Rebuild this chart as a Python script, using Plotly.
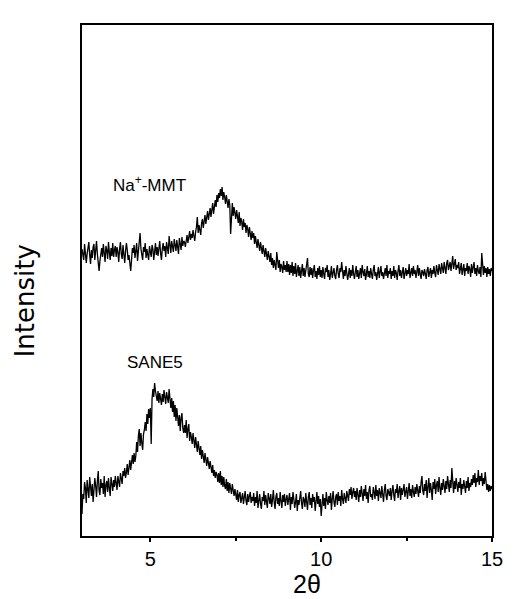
import numpy as np
import plotly.graph_objects as go

# 2-theta scan grid (degrees), step 0.025
two_theta = np.round(np.arange(3.0, 15.0001, 0.025), 3)

# Intensity (a.u.; the two patterns are offset vertically as in the figure)
na_mmt = [
    # 3.0 - 3.975
    287, 279, 276, 292, 285, 273, 282, 290, 294, 281, 272, 286, 278, 289, 292, 276, 284, 295, 282, 271,
    265, 275, 285, 288, 279, 292, 283, 274, 290, 286, 277, 294, 284, 276, 288, 280, 293, 279, 286, 290,
    # 4.0 - 4.975
    279, 289, 284, 274, 287, 294, 282, 277, 291, 281, 273, 285, 293, 286, 276, 281, 271, 265, 276, 288,
    283, 291, 278, 286, 293, 275, 284, 291, 303, 287, 280, 276, 289, 284, 293, 278, 287, 282, 276, 290,
    # 5.0 - 5.975
    286, 279, 291, 287, 276, 284, 293, 281, 289, 280, 290, 295, 283, 276, 287, 293, 285, 290, 279, 294,
    288, 282, 300, 290, 283, 295, 289, 284, 297, 291, 285, 296, 289, 282, 298, 292, 286, 299, 290, 295,
    # 6.0 - 6.975
    294, 289, 297, 301, 293, 299, 305, 296, 302, 298, 306, 300, 295, 304, 309, 319, 303, 311, 306, 301,
    313, 317, 308, 315, 321, 312, 318, 325, 316, 322, 328, 319, 326, 333, 322, 330, 336, 329, 341, 334,
    # 7.0 - 7.975
    343, 338, 347, 340, 349, 336, 344, 339, 332, 341, 335, 328, 337, 331, 302, 326, 333, 320, 329, 323,
    317, 326, 319, 313, 324, 310, 318, 314, 306, 317, 309, 313, 303, 311, 307, 299, 309, 302, 296, 305,
    # 8.0 - 8.975
    298, 303, 292, 300, 295, 288, 297, 290, 285, 294, 287, 282, 291, 284, 279, 288, 281, 276, 285, 278,
    274, 283, 271, 278, 268, 276, 272, 266, 284, 273, 268, 276, 264, 272, 269, 263, 275, 266, 271, 264,
    # 9.0 - 9.975
    275, 264, 272, 261, 271, 263, 274, 260, 270, 262, 273, 259, 267, 271, 260, 269, 258, 266, 272, 260,
    268, 259, 266, 271, 278, 262, 259, 269, 261, 268, 258, 266, 271, 259, 265, 257, 268, 261, 270, 259,
    # 10.0 - 10.975
    266, 258, 269, 262, 257, 268, 264, 271, 259, 266, 256, 262, 270, 258, 264, 268, 260, 257, 266, 271,
    262, 258, 268, 264, 274, 261, 257, 266, 260, 270, 264, 256, 262, 268, 258, 266, 260, 271, 262, 257,
    # 11.0 - 11.975
    264, 270, 259, 266, 257, 262, 268, 258, 271, 264, 260, 267, 256, 262, 270, 259, 265, 258, 268, 262,
    257, 266, 271, 260, 264, 256, 262, 269, 258, 266, 270, 260, 264, 257, 263, 268, 260, 271, 258, 265,
    # 12.0 - 12.975
    262, 268, 257, 265, 260, 270, 258, 266, 263, 256, 265, 271, 260, 266, 258, 262, 269, 257, 264, 268,
    260, 266, 262, 272, 258, 264, 268, 260, 270, 262, 266, 258, 264, 271, 260, 268, 262, 257, 266, 264,
    # 13.0 - 13.975
    260, 267, 262, 257, 266, 269, 259, 264, 268, 258, 266, 262, 270, 263, 259, 271, 265, 261, 272, 266,
    262, 273, 267, 263, 274, 268, 262, 273, 276, 266, 270, 274, 265, 275, 280, 267, 272, 277, 266, 271,
    # 14.0 - 14.975
    268, 274, 262, 270, 273, 261, 267, 272, 260, 268, 265, 273, 262, 270, 267, 259, 272, 263, 269, 274,
    262, 268, 260, 271, 265, 262, 269, 259, 283, 265, 261, 270, 263, 268, 259, 269, 262, 267, 260, 268,
    # 15.0
    265,
]

sane5 = [
    # 3.0 - 3.975
    22, 42, 37, 54, 48, 33, 56, 44, 38, 59, 49, 40, 52, 34, 46, 58, 50, 39, 55, 65,
    45, 41, 57, 48, 53, 42, 60, 39, 51, 55, 44, 58, 48, 40, 59, 51, 45, 56, 49, 60,
    # 4.0 - 4.975
    51, 46, 60, 55, 49, 63, 57, 52, 65, 60, 68, 58, 64, 72, 61, 70, 76, 66, 73, 81,
    72, 83, 74, 80, 94, 84, 100, 107, 90, 103, 93, 86, 102, 106, 114, 105, 122, 112, 127, 118,
    # 5.0 - 5.975
    128, 92, 137, 147, 139, 153, 145, 140, 135, 145, 133, 143, 137, 131, 142, 134, 146, 136, 132, 144,
    138, 133, 147, 139, 128, 138, 124, 135, 119, 131, 115, 128, 119, 110, 121, 105, 118, 123, 108, 103,
    # 6.0 - 6.975
    111, 103, 116, 98, 107, 112, 95, 104, 99, 92, 103, 94, 88, 99, 91, 84, 95, 87, 81, 90,
    77, 86, 80, 73, 83, 76, 70, 79, 72, 67, 75, 68, 63, 71, 60, 66, 58, 64, 61, 54,
    # 7.0 - 7.975
    63, 53, 65, 51, 60, 49, 59, 50, 47, 57, 45, 54, 43, 53, 48, 42, 52, 45, 40, 47,
    38, 36, 46, 34, 41, 44, 33, 40, 43, 32, 39, 45, 35, 31, 42, 34, 40, 44, 33, 39,
    # 8.0 - 8.975
    35, 43, 30, 39, 33, 45, 28, 37, 42, 32, 27, 39, 35, 45, 31, 41, 34, 28, 43, 37,
    32, 42, 29, 36, 46, 34, 27, 39, 43, 32, 38, 30, 44, 35, 28, 41, 34, 42, 30, 37,
    # 9.0 - 9.975
    41, 31, 36, 43, 26, 39, 32, 44, 37, 28, 34, 42, 25, 36, 31, 40, 45, 33, 27, 39,
    36, 29, 43, 34, 26, 39, 44, 31, 38, 28, 42, 34, 39, 25, 36, 44, 32, 40, 29, 37,
    # 10.0 - 10.975
    20, 34, 42, 30, 38, 27, 44, 36, 31, 40, 33, 43, 26, 37, 45, 34, 29, 39, 42, 31,
    44, 35, 40, 30, 46, 37, 32, 43, 38, 33, 45, 40, 35, 47, 41, 49, 37, 44, 48, 39,
    # 11.0 - 11.975
    45, 36, 48, 41, 34, 46, 39, 50, 43, 35, 47, 40, 51, 37, 44, 33, 46, 50, 39, 42,
    36, 49, 44, 37, 51, 40, 46, 35, 48, 42, 38, 50, 43, 34, 46, 52, 40, 36, 47, 43,
    # 12.0 - 12.975
    40, 48, 36, 45, 51, 41, 35, 47, 43, 52, 38, 45, 50, 36, 48, 41, 46, 52, 39, 44,
    49, 37, 45, 53, 40, 47, 38, 51, 44, 39, 49, 42, 52, 46, 39, 50, 43, 54, 60, 45,
    # 13.0 - 13.975
    41, 52, 45, 56, 38, 49, 58, 43, 53, 46, 36, 54, 47, 57, 42, 51, 55, 44, 59, 48,
    41, 53, 46, 57, 50, 43, 55, 47, 60, 51, 44, 56, 48, 68, 52, 43, 55, 47, 58, 49,
    # 14.0 - 14.975
    44, 54, 48, 58, 41, 52, 47, 56, 50, 43, 55, 48, 59, 45, 53, 49, 57, 51, 61, 53,
    63, 49, 58, 54, 66, 51, 60, 55, 63, 50, 58, 52, 64, 55, 46, 52, 44, 51, 45, 50,
    # 15.0
    47,
]

x_ticks = [5, 10, 15]
series_labels = ["Na<sup>+</sup>-MMT", "SANE5"]
label_x = [4.97, 5.13]
label_y = [352, 174]

FONT = "Liberation Sans, Arial, Helvetica, sans-serif"

fig = go.Figure()
for name, vals in [("Na+-MMT", na_mmt), ("SANE5", sane5)]:
    fig.add_trace(go.Scatter(
        x=two_theta, y=vals, mode="lines", name=name,
        line=dict(color="black", width=1.3), showlegend=False,
    ))

for txt, lx, ly in zip(series_labels, label_x, label_y):
    fig.add_annotation(x=lx, y=ly, text=txt, showarrow=False,
                       font=dict(family=FONT, size=17, color="black"),
                       xanchor="center", yanchor="middle")

# axis titles
fig.add_annotation(x=9.58, xref="x", y=-0.094, yref="paper", text="2θ",
                   showarrow=False, xanchor="center", yanchor="middle",
                   font=dict(family=FONT, size=25, color="black"))
fig.add_annotation(x=-0.138, xref="paper", y=0.46, yref="paper", text="Intensity",
                   textangle=-90, showarrow=False, xanchor="center", yanchor="middle",
                   font=dict(family="DejaVu Sans, sans-serif", size=26, color="black"))

fig.update_layout(
    width=526, height=599,
    margin=dict(l=74, r=42, t=17, b=71, autoexpand=False),
    paper_bgcolor="white", plot_bgcolor="white",
    font=dict(family=FONT, color="black"),
)
fig.update_xaxes(
    range=[3, 15], tickvals=x_ticks, ticks="outside", ticklen=4, tickwidth=1.5,
    tickcolor="black", tickfont=dict(size=20, family=FONT),
    minor=dict(tickvals=[7.5, 12.5], ticks="outside", ticklen=3, tickcolor="black"),
    showline=True, linecolor="black", linewidth=2, mirror=True,
    showgrid=False, zeroline=False, automargin=False,
)
fig.update_yaxes(
    range=[0, 511], showticklabels=False, ticks="",
    showline=True, linecolor="black", linewidth=2, mirror=True,
    showgrid=False, zeroline=False, automargin=False,
)

fig.write_html("out.html")
